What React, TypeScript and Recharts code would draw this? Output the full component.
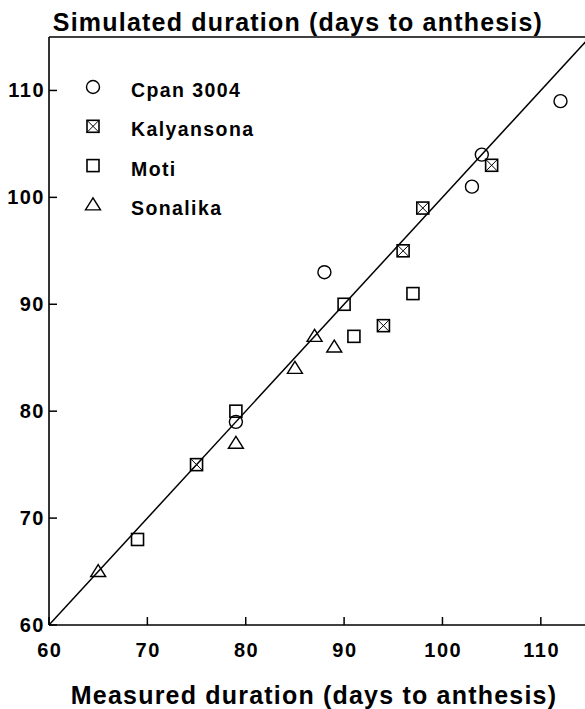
import React from 'react';
import { ScatterChart, Scatter, XAxis, YAxis, ReferenceLine, Legend } from 'recharts';

const seriesNames = ['Cpan 3004', 'Kalyansona', 'Moti', 'Sonalika'];
const cpanX = [79, 88, 103, 104, 112];
const cpanY = [79, 93, 101, 104, 109];
const kalyX = [75, 94, 96, 98, 105];
const kalyY = [75, 88, 95, 99, 103];
const motiX = [69, 79, 90, 91, 97];
const motiY = [68, 80, 90, 87, 91];
const sonaX = [65, 79, 85, 87, 89];
const sonaY = [65, 77, 84, 87, 86];
const ticks = [60, 70, 80, 90, 100, 110];
const domain: [number, number] = [60, 115];
const titleText = 'Simulated duration (days to anthesis)';
const xLabelText = 'Measured duration (days to anthesis)';

const zip = (xs: number[], ys: number[]) => xs.map((x, i) => ({ x, y: ys[i] }));
const cpanData = zip(cpanX, cpanY);
const kalyData = zip(kalyX, kalyY);
const motiData = zip(motiX, motiY);
const sonaData = zip(sonaX, sonaY);

const FONT = '"Liberation Sans", Arial, Helvetica, sans-serif';
const SW = 1.4;

function Marker({ kind, cx, cy }: { kind: string; cx: number; cy: number }) {
  if (kind === 'Cpan 3004') {
    return <circle cx={cx} cy={cy} r={6.5} fill="none" stroke="#000" strokeWidth={SW} />;
  }
  if (kind === 'Kalyansona') {
    const h = 6;
    return (
      <g>
        <rect x={cx - h} y={cy - h} width={2 * h} height={2 * h} fill="none" stroke="#000" strokeWidth={1.6} />
        <line x1={cx - h} y1={cy - h} x2={cx + h} y2={cy + h} stroke="#000" strokeWidth={1} />
        <line x1={cx + h} y1={cy - h} x2={cx - h} y2={cy + h} stroke="#000" strokeWidth={1} />
      </g>
    );
  }
  if (kind === 'Moti') {
    const h = 6;
    return <rect x={cx - h} y={cy - h} width={2 * h} height={2 * h} fill="none" stroke="#000" strokeWidth={1.6} />;
  }
  return (
    <polygon
      points={`${cx},${cy - 7} ${cx - 7.5},${cy + 5} ${cx + 7.5},${cy + 5}`}
      fill="none"
      stroke="#000"
      strokeWidth={SW}
      strokeLinejoin="miter"
    />
  );
}

const makeShape = (kind: string) => (props: any) => <Marker kind={kind} cx={props.cx} cy={props.cy} />;

function XTick(props: any) {
  const { x, y, payload } = props;
  return (
    <g>
      <line x1={x} y1={y} x2={x} y2={y - 8} stroke="#000" strokeWidth={1.5} />
      <text x={x + 0.8} y={y + 32} textAnchor="middle" fontFamily={FONT} fontWeight="bold" fontSize={20} letterSpacing={1.5} fill="#000">
        {payload.value}
      </text>
    </g>
  );
}

function YTick(props: any) {
  const { x, y, payload } = props;
  return (
    <g>
      <line x1={x} y1={y} x2={x + 8} y2={y} stroke="#000" strokeWidth={1.5} />
      <text x={x - 4} y={y + 7} textAnchor="end" fontFamily={FONT} fontWeight="bold" fontSize={20} letterSpacing={1.5} fill="#000">
        {payload.value}
      </text>
    </g>
  );
}

function LegendContent(props: any) {
  const payload = (props.payload || []) as any[];
  return (
    <svg width={300} height={240} style={{ display: 'block' }}>
      {payload.map((entry: any, i: number) => {
        const cy = 87 + i * 39.3;
        return (
          <g key={String(entry.value)}>
            <Marker kind={String(entry.value)} cx={93} cy={cy} />
            <text x={131} y={cy + 10} fontFamily={FONT} fontWeight="bold" fontSize={19.5} letterSpacing={1.4} fill="#000">
              {entry.value}
            </text>
          </g>
        );
      })}
    </svg>
  );
}

export default function App() {
  return (
    <div style={{ position: 'absolute', left: 0, top: 0, width: 585, height: 709, overflow: 'hidden', background: '#fff' }}>
      <ScatterChart width={590} height={709} margin={{ top: 37, right: 0, bottom: 0, left: 0 }}>
        <XAxis
          type="number"
          dataKey="x"
          domain={domain}
          ticks={ticks}
          allowDataOverflow
          height={84}
          tickSize={0}
          tickMargin={0}
          tickLine={false}
          axisLine={{ stroke: '#000', strokeWidth: 1.6 }}
          tick={<XTick />}
          interval={0}
        />
        <YAxis
          type="number"
          dataKey="y"
          domain={domain}
          ticks={ticks}
          allowDataOverflow
          width={49}
          tickSize={0}
          tickMargin={0}
          tickLine={false}
          axisLine={{ stroke: '#000', strokeWidth: 1.6 }}
          tick={<YTick />}
          interval={0}
        />
        <ReferenceLine y={115} stroke="#000" strokeWidth={1.4} ifOverflow="visible" />
        <ReferenceLine
          segment={[{ x: 60, y: 60 }, { x: 115, y: 115 }]}
          stroke="#000"
          strokeWidth={1.5}
          ifOverflow="visible"
        />
        <Legend
          layout="vertical"
          align="center"
          verticalAlign="middle"
          wrapperStyle={{ position: 'absolute', left: 0, top: 0, width: 300, height: 240 }}
          content={<LegendContent />}
        />
        <Scatter name={seriesNames[0]} data={cpanData} shape={makeShape(seriesNames[0])} isAnimationActive={false} />
        <Scatter name={seriesNames[1]} data={kalyData} shape={makeShape(seriesNames[1])} isAnimationActive={false} />
        <Scatter name={seriesNames[2]} data={motiData} shape={makeShape(seriesNames[2])} isAnimationActive={false} />
        <Scatter name={seriesNames[3]} data={sonaData} shape={makeShape(seriesNames[3])} isAnimationActive={false} />
      </ScatterChart>
      <svg width={585} height={709} style={{ position: 'absolute', left: 0, top: 0, pointerEvents: 'none' }}>
        <text x={298} y={31} textAnchor="middle" fontFamily={FONT} fontWeight="bold" fontSize={25} letterSpacing={1.2} fill="#000">
          {titleText}
        </text>
        <text x={314} y={704} textAnchor="middle" fontFamily={FONT} fontWeight="bold" fontSize={25} letterSpacing={1.2} fill="#000">
          {xLabelText}
        </text>
      </svg>
    </div>
  );
}
